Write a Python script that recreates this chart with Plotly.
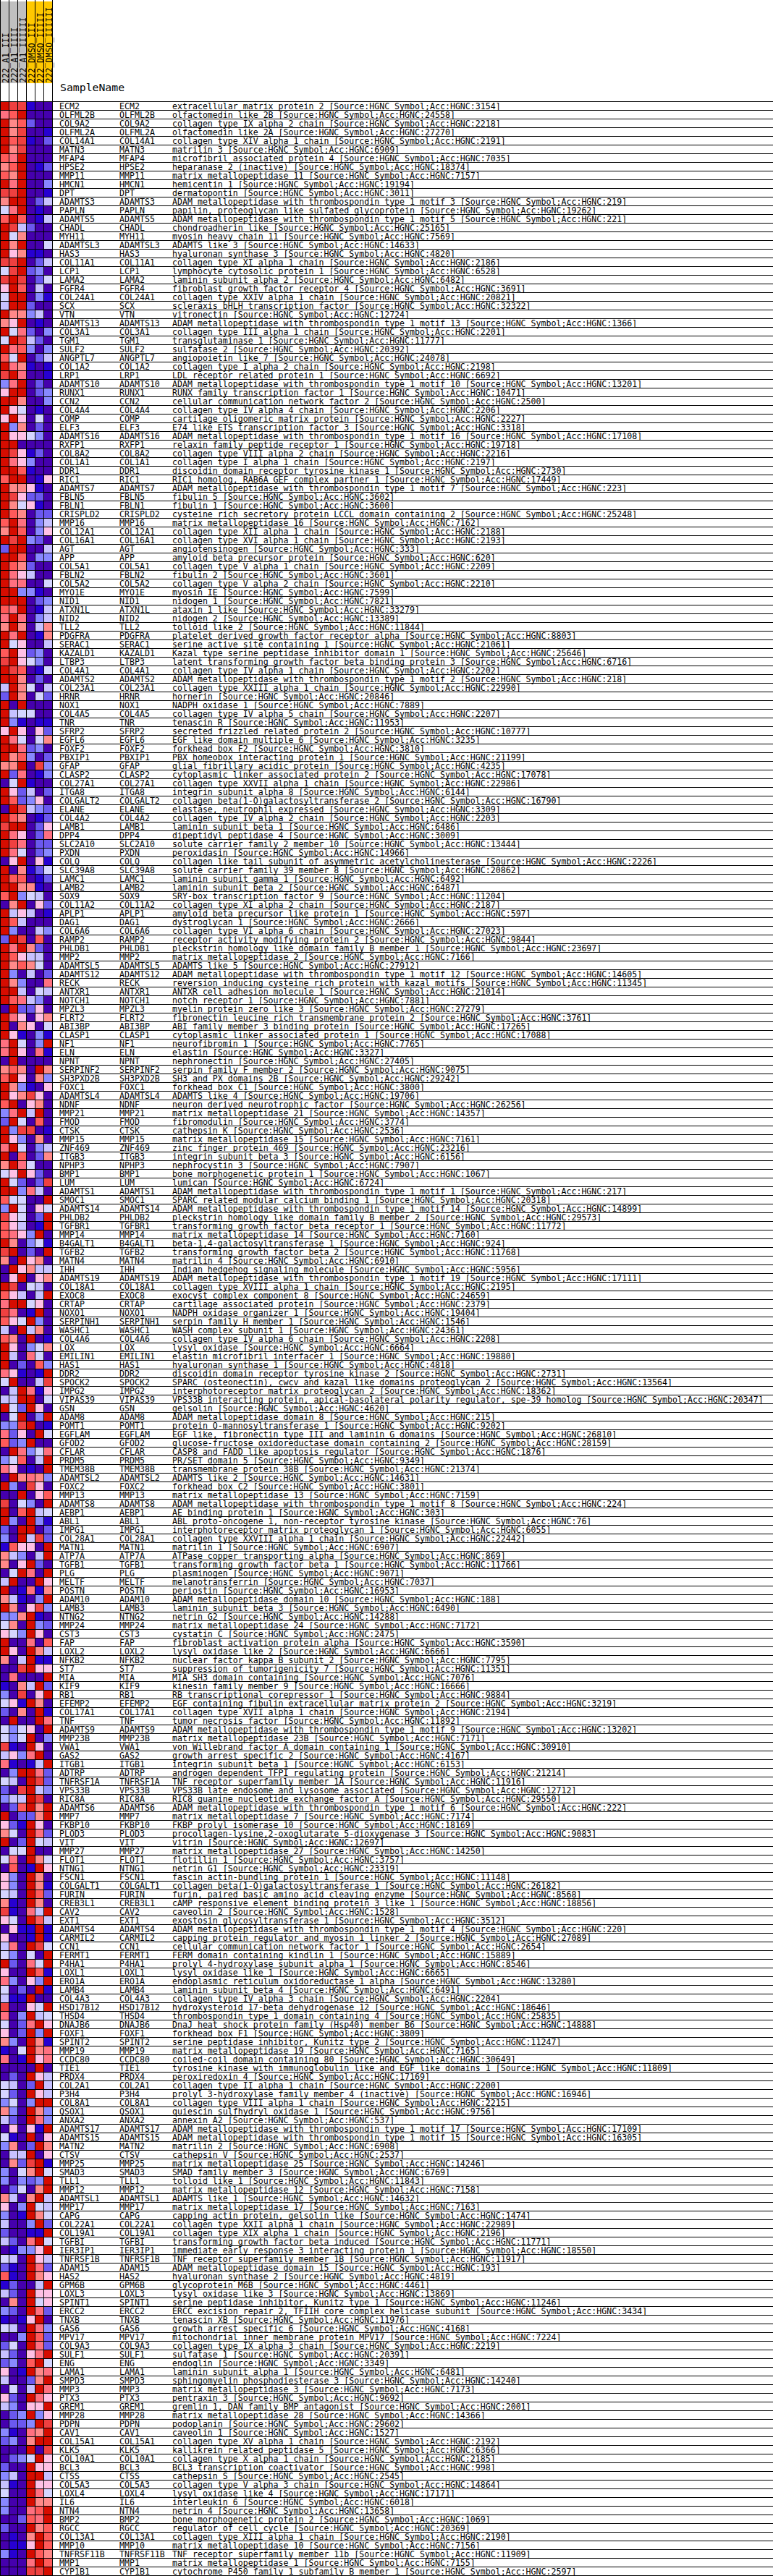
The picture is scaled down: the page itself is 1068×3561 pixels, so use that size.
import plotly.graph_objects as go

W, H = 1068, 3561

SAMPLES = ["222_A1_III", "222_A1_IIII", "222_A1_IIIIII", "222_DMSO_III", "222_DMSO_IIIII", "222_DMSO_IIIIII"]
GROUPS = [0, 0, 0, 1, 1, 1]
GROUP_COLORS = ["#C0C0C0", "#FFC800"]
PALETTE = ["#4500AD", "#2700D1", "#6B58EF", "#8888FF", "#C7C1FF", "#D5D5FF",
           "#FFC0E5", "#FF8989", "#FF7080", "#FF5A5A", "#EF4040", "#D60C00"]

GENES = """ECM2 OLFML2B COL9A2 OLFML2A COL14A1 MATN3 MFAP4 HPSE2 MMP11 HMCN1 DPT ADAMTS3 PAPLN ADAMTS5 CHADL MYH11 ADAMTSL3 HAS3 COL11A1 LCP1 LAMA2 FGFR4 COL24A1 SCX
VTN ADAMTS13 COL3A1 TGM1 SULF2 ANGPTL7 COL1A2 LRP1 ADAMTS10 RUNX1 CCN2 COL4A4 COMP ELF3 ADAMTS16 RXFP1 COL8A2 COL1A1 DDR1 RIC1 ADAMTS7 FBLN5 FBLN1 CRISPLD2 MMP16 COL12A1 COL16A1 AGT APP COL5A1 FBLN2 COL5A2 MYO1E NID1 ATXN1L NID2 TLL2 PDGFRA SERAC1 KAZALD1
LTBP3 COL4A1 ADAMTS2 COL23A1 HRNR NOX1 COL4A5 TNR SFRP2 EGFL6 FOXF2 PBXIP1 GFAP CLASP2 COL27A1 ITGA8 COLGALT2 ELANE COL4A2 LAMB1 DPP4 SLC2A10 PXDN COLQ SLC39A8 LAMC1 LAMB2 SOX9 COL11A2 APLP1 DAG1 COL6A6 RAMP2 PHLDB1 MMP2 ADAMTSL5 ADAMTS12 RECK ANTXR1 NOTCH1
MPZL3 FLRT2 ABI3BP CLASP1 NF1 ELN NPNT SERPINF2 SH3PXD2B FOXC1 ADAMTSL4 NDNF MMP21 FMOD CTSK MMP15 ZNF469 ITGB3 NPHP3 BMP1 LUM ADAMTS1 SMOC1 ADAMTS14 PHLDB2 TGFBR1 MMP14 B4GALT1 TGFB2 MATN4 IHH ADAMTS19 COL18A1 EXOC8 CRTAP NOXO1 SERPINH1 WASHC1 COL4A6 LOX
EMILIN1 HAS1 DDR2 SPOCK2 IMPG2 VIPAS39 GSN ADAM8 POMT1 EGFLAM GFOD2 CFLAR PRDM5 TMEM38B ADAMTSL2 FOXC2 MMP13 ADAMTS8 AEBP1 ABL1 IMPG1 COL28A1 MATN1 ATP7A TGFB1 PLG MELTF POSTN ADAM10 LAMB3 NTNG2 MMP24 CST3 FAP LOXL2 NFKB2 ST7 MIA KIF9 RB1
EFEMP2 COL17A1 TNF ADAMTS9 MMP23B VWA1 GAS2 ITGB1 ADTRP TNFRSF1A VPS33B RIC8A ADAMTS6 MMP7 FKBP10 PLOD3 VIT MMP27 FLOT1 NTNG1 FSCN1 COLGALT1 FURIN CREB3L1 CAV2 EXT1 ADAMTS4 CARMIL2 CCN1 FERMT1 P4HA1 LOXL1 ERO1A LAMB4 COL4A3 HSD17B12 THSD4 DNAJB6 FOXF1 SPINT2
MMP19 CCDC80 TIE1 PRDX4 COL2A1 P3H4 COL8A1 QSOX1 ANXA2 ADAMTS17 ADAMTS15 MATN2 CTSV MMP25 SMAD3 TLL1 MMP12 ADAMTSL1 MMP17 CAPG COL22A1 COL19A1 TGFBI IER3IP1 TNFRSF1B ADAM15 HAS2 GPM6B LOXL3 SPINT1 ERCC2 TNXB GAS6 MPV17 COL9A3 SULF1 ENG LAMA1 SMPD3 MMP3
PTX3 GREM1 MMP28 PDPN CAV1 COL15A1 KLK5 COL10A1 BCL3 CTSS COL5A3 LOXL4 IL6 NTN4 BMP2 RGCC COL13A1 MMP10 TNFRSF11B MMP1 CYP1B1""".split()

# level of each sample per gene, base 12 digit (index into PALETTE)
LEVELS = """baa100 89b000 b79200 b7a001 b9a102 b7a000 98b000 79b012 97b000 b8b003 aab001 7bb024 58b010 9b9014 ba4200 b57000 b7b005 b67110 aab024 5ab230 aba025 6b9040 5bb031 4bb200
b77340 76b010 b58203 5ba420 b89303 95b024 b87101 ab8001 38b020 6bb023 bb7003 b65010 6b6050 b37020 b66530 bb0000 ba6120 b86300 bb9100 9bb016 b77610 ba6220 b75610 b97022 9b8034 7b9036 bab320 2bb004 bb9033 b97200 b86400 b88005 bb3310 bbb023 98b014 8b8034 7b7047 b8b017 b56004 9b6230
ab6530 ba9015 bb7020 4b7504 2b7052 b0b000 b45500 b31011 6b6062 b85057 bb8230 b79302 77b0a3 b28013 05b100 b62402 b92360 0ba432 b97012 abb026 b86028 ba8022 b85023 06b061 b07125 b99012 bb7710 9b3540 07b062 b46401 b94000 b30043 2ba090 b8b720 b96440 b79750 b30402 b73008 bb4054 b98430
0b2260 b86067 b07605 b61031 8b503b 8b6081 0b0000 7970b7 9b6073 b73106 b67a60 9b0670 38b4b0 2b5090 b3aa01 b63070 8b5034 b09027 7b8500 56b620 b5202a bb3840 95500b 3b5065 a6502b 96401b 9863b0 b70351 ab020b 70b670 0b6744 06b067 ba0540 96404b 8bb560 a801b0 965b30 40b470 970b01 b60357
b40850 b02093 86101b 5b004a 04b816 44bb05 b52b60 05b03b 33ab01 8260b5 923b00 0b8358 35904b 86010b 0b7873 b30a60 00b069 a0530b b09b45 b30b31 20bb02 30b4a2 19660b 74304b 706b20 05b80b 4b00b6 b01817 74103b b706a3 337b10 570b32 653b60 b00809 b60b74 704b11 00ab66 08000b 1074b2 30a06b
561b70 2070b1 0b00b8 53560b 535b03 a10b60 4638b0 81014b 03bb82 540ba2 20ab43 344ba0 029b7b b0227b 621b60 750b82 b02b54 055b00 580b75 0901b6 630b70 630b71 540b92 710b70 a1084b 650b94 0611b1 6001b1 480ba5 53050b b2085b 600b91 83063b 5020b1 411b00 a0065b 803b45 5028b6 602b3b 730b71
105b78 801b68 0000b0 020b64 5402b4 520b64 3503bb 730b73 420b83 06061b 510b06 3702b7 044b06 072ab1 3057b5 30323b 02507b 7407b4 603b54 301b75 4003b2 20011b 4208b5 01336b 540b64 210b82 910b76 12004b 420b66 070b56 320b82 1016b0 540b83 003b92 250b82 42068b 2309b5 601b78 40027b 0504b8
620b86 43066b 023b36 0223ba 31087b 2307bb 000b0a 0235b6 200b66 340bb4 410b66 500b85 300b77 30089b 00298b 200b79 0107b9 0116b9 310b97 0008b9 000aab""".split()

NAMES = [
"extracellular matrix protein 2","olfactomedin like 2B","collagen type IX alpha 2 chain","olfactomedin like 2A","collagen type XIV alpha 1 chain","matrilin 3","microfibril associated protein 4","heparanase 2 (inactive)","matrix metallopeptidase 11","hemicentin 1","dermatopontin","ADAM metallopeptidase with thrombospondin type 1 motif 3","papilin, proteoglycan like sulfated glycoprotein","ADAM metallopeptidase with thrombospondin type 1 motif 5","chondroadherin like","myosin heavy chain 11","ADAMTS like 3","hyaluronan synthase 3","collagen type XI alpha 1 chain","lymphocyte cytosolic protein 1","laminin subunit alpha 2","fibroblast growth factor receptor 4","collagen type XXIV alpha 1 chain","scleraxis bHLH transcription factor",
"vitronectin","ADAM metallopeptidase with thrombospondin type 1 motif 13","collagen type III alpha 1 chain","transglutaminase 1","sulfatase 2","angiopoietin like 7","collagen type I alpha 2 chain","LDL receptor related protein 1","ADAM metallopeptidase with thrombospondin type 1 motif 10","RUNX family transcription factor 1","cellular communication network factor 2","collagen type IV alpha 4 chain","cartilage oligomeric matrix protein","E74 like ETS transcription factor 3","ADAM metallopeptidase with thrombospondin type 1 motif 16","relaxin family peptide receptor 1","collagen type VIII alpha 2 chain","collagen type I alpha 1 chain","discoidin domain receptor tyrosine kinase 1","RIC1 homolog, RAB6A GEF complex partner 1","ADAM metallopeptidase with thrombospondin type 1 motif 7","fibulin 5","fibulin 1","cysteine rich secretory protein LCCL domain containing 2","matrix metallopeptidase 16","collagen type XII alpha 1 chain","collagen type XVI alpha 1 chain","angiotensinogen","amyloid beta precursor protein","collagen type V alpha 1 chain","fibulin 2","collagen type V alpha 2 chain","myosin IE","nidogen 1","ataxin 1 like","nidogen 2","tolloid like 2","platelet derived growth factor receptor alpha","serine active site containing 1","Kazal type serine peptidase inhibitor domain 1",
"latent transforming growth factor beta binding protein 3","collagen type IV alpha 1 chain","ADAM metallopeptidase with thrombospondin type 1 motif 2","collagen type XXIII alpha 1 chain","hornerin","NADPH oxidase 1","collagen type IV alpha 5 chain","tenascin R","secreted frizzled related protein 2","EGF like domain multiple 6","forkhead box F2","PBX homeobox interacting protein 1","glial fibrillary acidic protein","cytoplasmic linker associated protein 2","collagen type XXVII alpha 1 chain","integrin subunit alpha 8","collagen beta(1-O)galactosyltransferase 2","elastase, neutrophil expressed","collagen type IV alpha 2 chain","laminin subunit beta 1","dipeptidyl peptidase 4","solute carrier family 2 member 10","peroxidasin","collagen like tail subunit of asymmetric acetylcholinesterase","solute carrier family 39 member 8","laminin subunit gamma 1","laminin subunit beta 2","SRY-box transcription factor 9","collagen type XI alpha 2 chain","amyloid beta precursor like protein 1","dystroglycan 1","collagen type VI alpha 6 chain","receptor activity modifying protein 2","pleckstrin homology like domain family B member 1","matrix metallopeptidase 2","ADAMTS like 5","ADAM metallopeptidase with thrombospondin type 1 motif 12","reversion inducing cysteine rich protein with kazal motifs","ANTXR cell adhesion molecule 1","notch receptor 1",
"myelin protein zero like 3","fibronectin leucine rich transmembrane protein 2","ABI family member 3 binding protein","cytoplasmic linker associated protein 1","neurofibromin 1","elastin","nephronectin","serpin family F member 2","SH3 and PX domains 2B","forkhead box C1","ADAMTS like 4","neuron derived neurotrophic factor","matrix metallopeptidase 21","fibromodulin","cathepsin K","matrix metallopeptidase 15","zinc finger protein 469","integrin subunit beta 3","nephrocystin 3","bone morphogenetic protein 1","lumican","ADAM metallopeptidase with thrombospondin type 1 motif 1","SPARC related modular calcium binding 1","ADAM metallopeptidase with thrombospondin type 1 motif 14","pleckstrin homology like domain family B member 2","transforming growth factor beta receptor 1","matrix metallopeptidase 14","beta-1,4-galactosyltransferase 1","transforming growth factor beta 2","matrilin 4","Indian hedgehog signaling molecule","ADAM metallopeptidase with thrombospondin type 1 motif 19","collagen type XVIII alpha 1 chain","exocyst complex component 8","cartilage associated protein","NADPH oxidase organizer 1","serpin family H member 1","WASH complex subunit 1","collagen type IV alpha 6 chain","lysyl oxidase",
"elastin microfibril interfacer 1","hyaluronan synthase 1","discoidin domain receptor tyrosine kinase 2","SPARC (osteonectin), cwcv and kazal like domains proteoglycan 2","interphotoreceptor matrix proteoglycan 2","VPS33B interacting protein, apical-basolateral polarity regulator, spe-39 homolog","gelsolin","ADAM metallopeptidase domain 8","protein O-mannosyltransferase 1","EGF like, fibronectin type III and laminin G domains","glucose-fructose oxidoreductase domain containing 2","CASP8 and FADD like apoptosis regulator","PR/SET domain 5","transmembrane protein 38B","ADAMTS like 2","forkhead box C2","matrix metallopeptidase 13","ADAM metallopeptidase with thrombospondin type 1 motif 8","AE binding protein 1","ABL proto-oncogene 1, non-receptor tyrosine kinase","interphotoreceptor matrix proteoglycan 1","collagen type XXVIII alpha 1 chain","matrilin 1","ATPase copper transporting alpha","transforming growth factor beta 1","plasminogen","melanotransferrin","periostin","ADAM metallopeptidase domain 10","laminin subunit beta 3","netrin G2","matrix metallopeptidase 24","cystatin C","fibroblast activation protein alpha","lysyl oxidase like 2","nuclear factor kappa B subunit 2","suppression of tumorigenicity 7","MIA SH3 domain containing","kinesin family member 9","RB transcriptional corepressor 1",
"EGF containing fibulin extracellular matrix protein 2","collagen type XVII alpha 1 chain","tumor necrosis factor","ADAM metallopeptidase with thrombospondin type 1 motif 9","matrix metallopeptidase 23B","von Willebrand factor A domain containing 1","growth arrest specific 2","integrin subunit beta 1","androgen dependent TFPI regulating protein","TNF receptor superfamily member 1A","VPS33B late endosome and lysosome associated","RIC8 guanine nucleotide exchange factor A","ADAM metallopeptidase with thrombospondin type 1 motif 6","matrix metallopeptidase 7","FKBP prolyl isomerase 10","procollagen-lysine,2-oxoglutarate 5-dioxygenase 3","vitrin","matrix metallopeptidase 27","flotillin 1","netrin G1","fascin actin-bundling protein 1","collagen beta(1-O)galactosyltransferase 1","furin, paired basic amino acid cleaving enzyme","cAMP responsive element binding protein 3 like 1","caveolin 2","exostosin glycosyltransferase 1","ADAM metallopeptidase with thrombospondin type 1 motif 4","capping protein regulator and myosin 1 linker 2","cellular communication network factor 1","FERM domain containing kindlin 1","prolyl 4-hydroxylase subunit alpha 1","lysyl oxidase like 1","endoplasmic reticulum oxidoreductase 1 alpha","laminin subunit beta 4","collagen type IV alpha 3 chain","hydroxysteroid 17-beta dehydrogenase 12","thrombospondin type 1 domain containing 4","DnaJ heat shock protein family (Hsp40) member B6","forkhead box F1","serine peptidase inhibitor, Kunitz type 2",
"matrix metallopeptidase 19","coiled-coil domain containing 80","tyrosine kinase with immunoglobulin like and EGF like domains 1","peroxiredoxin 4","collagen type II alpha 1 chain","prolyl 3-hydroxylase family member 4 (inactive)","collagen type VIII alpha 1 chain","quiescin sulfhydryl oxidase 1","annexin A2","ADAM metallopeptidase with thrombospondin type 1 motif 17","ADAM metallopeptidase with thrombospondin type 1 motif 15","matrilin 2","cathepsin V","matrix metallopeptidase 25","SMAD family member 3","tolloid like 1","matrix metallopeptidase 12","ADAMTS like 1","matrix metallopeptidase 17","capping actin protein, gelsolin like","collagen type XXII alpha 1 chain","collagen type XIX alpha 1 chain","transforming growth factor beta induced","immediate early response 3 interacting protein 1","TNF receptor superfamily member 1B","ADAM metallopeptidase domain 15","hyaluronan synthase 2","glycoprotein M6B","lysyl oxidase like 3","serine peptidase inhibitor, Kunitz type 1","ERCC excision repair 2, TFIIH core complex helicase subunit","tenascin XB","growth arrest specific 6","mitochondrial inner membrane protein MPV17","collagen type IX alpha 3 chain","sulfatase 1","endoglin","laminin subunit alpha 1","sphingomyelin phosphodiesterase 3","matrix metallopeptidase 3",
"pentraxin 3","gremlin 1, DAN family BMP antagonist","matrix metallopeptidase 28","podoplanin","caveolin 1","collagen type XV alpha 1 chain","kallikrein related peptidase 5","collagen type X alpha 1 chain","BCL3 transcription coactivator","cathepsin S","collagen type V alpha 3 chain","lysyl oxidase like 4","interleukin 6","netrin 4","bone morphogenetic protein 2","regulator of cell cycle","collagen type XIII alpha 1 chain","matrix metallopeptidase 10","TNF receptor superfamily member 11b","matrix metallopeptidase 1","cytochrome P450 family 1 subfamily B member 1",
]

ACC = [3154,24558,2218,27270,2191,6909,7035,18374,7157,19194,3011,219,19262,221,25165,7569,14633,4820,2186,6528,6482,3691,20821,32322,
12724,1366,2201,11777,20392,24078,2198,6692,13201,10471,2500,2206,2227,3318,17108,19718,2216,2197,2730,17449,223,3602,3600,25248,7162,2188,2193,333,620,2209,3601,2210,7599,7821,33279,13389,11844,8803,21061,25646,
6716,2202,218,22990,20846,7889,2207,11953,10777,3235,3810,21199,4235,17078,22986,6144,16790,3309,2203,6486,3009,13444,14966,2226,20862,6492,6487,11204,2187,597,2666,27023,9844,23697,7166,27912,14605,11345,21014,7881,
27279,3761,17265,17088,7765,3327,27405,9075,29242,3800,19706,26256,14357,3774,2536,7161,23216,6156,7907,1067,6724,217,20318,14899,29573,11772,7160,924,11768,6910,5956,17111,2195,24659,2379,19404,1546,24361,2208,6664,
19880,4818,2731,13564,18362,20347,4620,215,9202,26810,28159,1876,9349,21374,14631,3801,7159,224,303,76,6055,22442,6907,869,11766,9071,7037,16953,188,6490,14288,7172,2475,3590,6666,7795,11351,7076,16666,9884,
3219,2194,11892,13202,7171,30910,4167,6153,21214,11916,12712,29550,222,7174,18169,9083,12697,14250,3757,23319,11148,26182,8568,18856,1528,3512,220,27089,2654,15889,8546,6665,13280,6491,2204,18646,25835,14888,3809,11247,
7165,30649,11809,17169,2200,16946,2215,9756,537,17109,16305,6908,2537,14246,6769,11843,7158,14632,7163,1474,22989,2196,11771,18550,11917,193,4819,4461,13869,11246,3434,11976,4168,7224,2219,20391,3349,6481,14240,7173,
9692,2001,14366,29602,1527,2192,6366,2185,998,2545,14864,17171,6018,13658,1069,20369,2190,7156,11909,7155,2597]

# geometry of the page (pixels)
TOP = 140.5
ROW = 12.0
CELL = 12.0
FONT = "DejaVu Sans Mono"
FS = 11.6
TEXT_SHIFT = 0.14   # row units

n = len(GENES)
assert n == len(LEVELS) == len(NAMES) == len(ACC), (n, len(LEVELS), len(NAMES), len(ACC))
z = [[int(c, 12) for c in row] for row in LEVELS]
N_C = len(PALETTE)
rows = list(range(n))


def px2row(p):
    return (p - TOP) / ROW - 0.5


fig = go.Figure()
fig.add_trace(go.Heatmap(z=z, x0=0.5 + CELL / 2, dx=CELL, y=rows, zmin=0, zmax=N_C - 1,
                         colorscale=[[i / (N_C - 1), c] for i, c in enumerate(PALETTE)],
                         showscale=False, hoverinfo="skip", xaxis="x", yaxis="y"))
fig.add_trace(go.Heatmap(z=[GROUPS], x0=0.5 + CELL / 2, dx=CELL,
                         y0=(px2row(2) + px2row(115)) / 2, dy=px2row(115) - px2row(2),
                         zmin=0, zmax=1,
                         colorscale=[[0, GROUP_COLORS[0]], [1, GROUP_COLORS[1]]],
                         showscale=False, hoverinfo="skip", xaxis="x", yaxis="y"))

# grid lines
lx, ly = [], []
for r in range(n + 1):
    lx += [0, W, None]
    ly += [r - 0.5, r - 0.5, None]
top_y = px2row(0)
bot_y = px2row(H)
for k in range(len(SAMPLES) + 1):
    x = 0.5 + k * CELL
    lx += [x, x, None]
    ly += [top_y, bot_y, None]
fig.add_trace(go.Scatter(x=lx, y=ly, mode="lines", line=dict(color="#000000", width=1),
                         hoverinfo="skip", showlegend=False, xaxis="x", yaxis="y"))

# text columns
text_columns = [(82, GENES), (165, GENES),
                (238, [f"{a} [Source:HGNC Symbol;Acc:HGNC:{b}]" for a, b in zip(NAMES, ACC)])]
for x0, labels in text_columns:
    fig.add_trace(go.Scatter(x=[x0] * n, y=[r + TEXT_SHIFT for r in rows], text=labels, mode="text",
                             textposition="middle right", cliponaxis=False,
                             textfont=dict(family=FONT, size=FS, color="#000000"),
                             hoverinfo="skip", showlegend=False, xaxis="x", yaxis="y"))

ann = []
for k, s in enumerate(SAMPLES):
    ann.append(dict(x=0.5 + CELL * (k + 0.5), y=1 - 115 / H, xref="x", yref="paper", text=s, showarrow=False,
                    textangle=-90, xanchor="center", yanchor="bottom", borderpad=0, borderwidth=0, xshift=1.5,
                    font=dict(family=FONT, size=FS, color="#000000")))
ann.append(dict(x=82, y=1 - 121 / H, xref="x", yref="paper", text="SampleName", showarrow=False,
                xanchor="left", yanchor="middle", borderpad=0,
                font=dict(family=FONT, size=14.8, color="#000000")))

fig.update_layout(
    width=W, height=H, margin=dict(l=0, r=0, t=0, b=0, pad=0), autosize=False,
    paper_bgcolor="#FFFFFF", plot_bgcolor="#FFFFFF", showlegend=False, annotations=ann,
    xaxis=dict(domain=[0, 1], range=[0, W], visible=False, fixedrange=True),
    yaxis=dict(domain=[0, 1], range=[bot_y, top_y], visible=False, fixedrange=True),
)

fig.write_html("out.html", config=dict(displayModeBar=False, responsive=False),
               post_script="document.body.style.margin='0';document.body.style.overflow='hidden';")
